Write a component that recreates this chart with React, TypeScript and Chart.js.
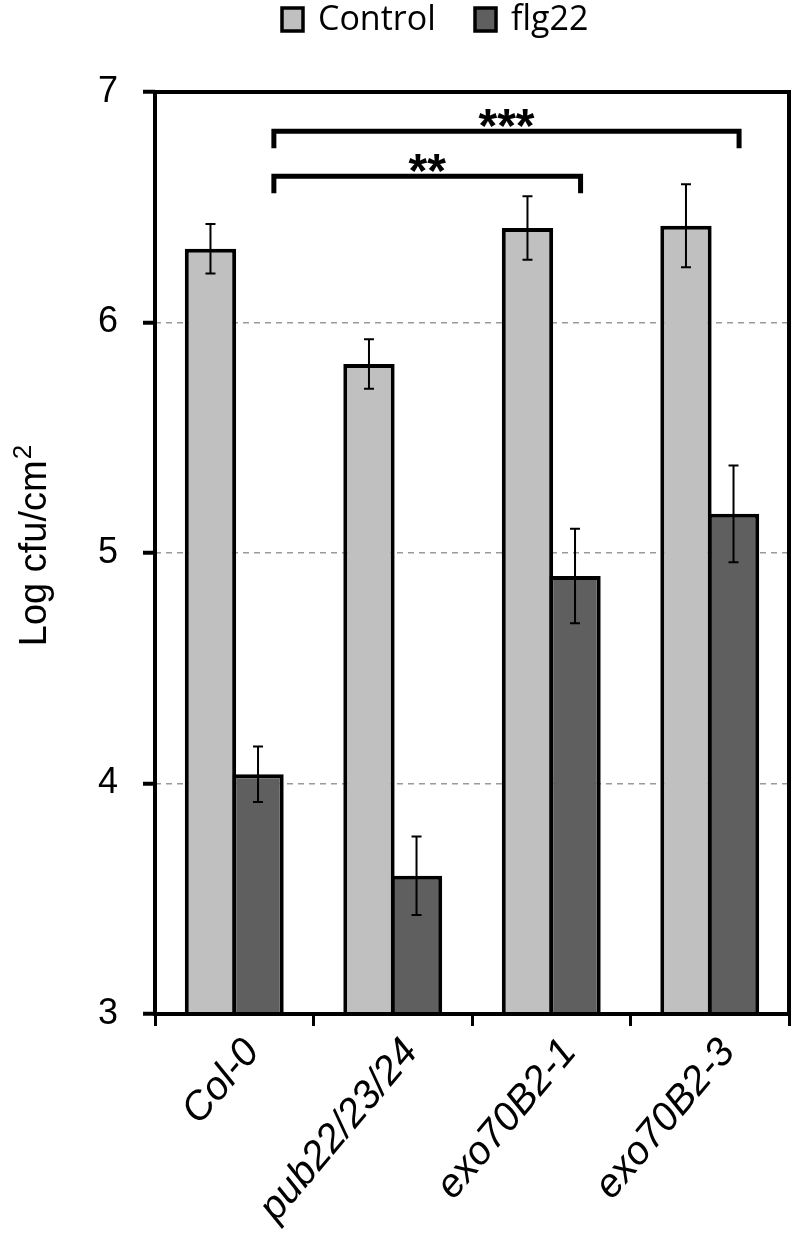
import React, { useEffect, useRef } from 'react';
import { Chart, registerables } from 'chart.js';

Chart.register(...registerables);

const categories = ['Col-0', 'pub22/23/24', 'exo70B2-1', 'exo70B2-3'];
const seriesNames = ['Control', 'flg22'];
const controlValues = [6.32, 5.82, 6.41, 6.42];
const controlErrors = [0.107, 0.107, 0.138, 0.18];
const flg22Values = [4.04, 3.6, 4.9, 5.17];
const flg22Errors = [0.12, 0.17, 0.205, 0.21];
const yTicks = [3, 4, 5, 6, 7];
const bracketFrom = [0, 0];
const bracketTo = [3, 2];
const bracketLevels = [6.83, 6.635];
const bracketLabels = ['***', '**'];
const yTitle = 'Log cfu/cm';
const yTitleSup = '2';

const seriesColors = ['#c0c0c0', '#5f5f5f'];
const FONT = '"Liberation Sans", Arial, sans-serif';

const overlay = {
  id: 'overlay',
  afterDatasetsDraw(chart: any) {
    const ctx = chart.ctx;
    const y = chart.scales.y;
    const errs = [controlErrors, flg22Errors];
    chart.data.datasets.forEach((ds: any, di: number) => {
      const meta = chart.getDatasetMeta(di);
      meta.data.forEach((bar: any, i: number) => {
        const v = ds.data[i];
        const e = errs[di][i];
        const cx = bar.x;
        const yt = y.getPixelForValue(v + e);
        const yb = y.getPixelForValue(v - e);
        ctx.save();
        ctx.strokeStyle = '#000';
        ctx.lineWidth = 2;
        ctx.beginPath();
        ctx.moveTo(cx, yt);
        ctx.lineTo(cx, yb);
        ctx.moveTo(cx - 5, yt);
        ctx.lineTo(cx + 5, yt);
        ctx.moveTo(cx - 5, yb);
        ctx.lineTo(cx + 5, yb);
        ctx.stroke();
        ctx.restore();
      });
    });
  },
  afterDraw(chart: any) {
    const ctx = chart.ctx;
    const area = chart.chartArea;
    const x = chart.scales.x;
    const y = chart.scales.y;
    ctx.save();
    // frame
    ctx.strokeStyle = '#000';
    ctx.lineWidth = 4;
    ctx.strokeRect(area.left, area.top, area.right - area.left, area.bottom - area.top);

    // brackets
    const catW = x.getPixelForValue(1) - x.getPixelForValue(0);
    ctx.lineWidth = 5;
    ctx.lineJoin = 'miter';
    ctx.lineCap = 'butt';
    bracketLevels.forEach((lvl, k) => {
      const xl = x.getPixelForValue(bracketFrom[k]) + 0.25 * catW;
      const xr = x.getPixelForValue(bracketTo[k]) + 0.185 * catW;
      const yb = y.getPixelForValue(lvl);
      ctx.beginPath();
      ctx.moveTo(xl, yb + 17);
      ctx.lineTo(xl, yb);
      ctx.lineTo(xr, yb);
      ctx.lineTo(xr, yb + 17);
      ctx.stroke();
      ctx.fillStyle = '#000';
      ctx.font = `bold 48px ${FONT}`;
      ctx.textAlign = 'center';
      ctx.textBaseline = 'alphabetic';
      ctx.fillText(bracketLabels[k], (xl + xr) / 2, yb + 11);
    });

    // legend
    ctx.font = '34px "Open Sans", sans-serif';
    ctx.textBaseline = 'middle';
    ctx.textAlign = 'left';
    const legendBoxX = [282, 475];
    seriesNames.forEach((name, i) => {
      const bx = legendBoxX[i];
      ctx.fillStyle = seriesColors[i];
      ctx.fillRect(bx, 8, 21, 23);
      ctx.lineWidth = 3.5;
      ctx.strokeStyle = '#000';
      ctx.strokeRect(bx, 8, 21, 23);
      ctx.fillStyle = '#000';
      ctx.fillText(name, bx + 36, 20);
    });

    // y title
    ctx.translate(46, 546);
    ctx.rotate(-Math.PI / 2);
    ctx.font = `38px ${FONT}`;
    const w1 = ctx.measureText(yTitle).width;
    ctx.font = `26px ${FONT}`;
    const w2 = ctx.measureText(yTitleSup).width;
    const start = -(w1 + w2) / 2;
    ctx.textBaseline = 'alphabetic';
    ctx.fillStyle = '#000';
    ctx.font = `38px ${FONT}`;
    ctx.fillText(yTitle, start, 0);
    ctx.font = `26px ${FONT}`;
    ctx.fillText(yTitleSup, start + w1 + 1, -15);
    ctx.restore();
  },
};

export default function App() {
  const ref = useRef<HTMLCanvasElement | null>(null);
  useEffect(() => {
    document.body.style.margin = '0';
    if (!ref.current) return;
    const chart = new Chart(ref.current, {
      type: 'bar',
      data: {
        labels: categories,
        datasets: [
          {
            label: seriesNames[0],
            data: controlValues,
            backgroundColor: seriesColors[0],
            borderColor: '#000',
            borderWidth: 4,
            borderSkipped: false,
            categoryPercentage: 0.6,
            barPercentage: 1.08,
          },
          {
            label: seriesNames[1],
            data: flg22Values,
            backgroundColor: seriesColors[1],
            borderColor: '#000',
            borderWidth: 4,
            borderSkipped: false,
            categoryPercentage: 0.6,
            barPercentage: 1.08,
          },
        ],
      },
      options: {
        responsive: false,
        animation: false,
        devicePixelRatio: 1,
        layout: { padding: { top: 92, right: 8, left: 0, bottom: 0 } },
        plugins: { legend: { display: false }, tooltip: { enabled: false } },
        scales: {
          x: {
            offset: true,
            grid: {
              offset: true,
              drawOnChartArea: false,
              color: '#000',
              lineWidth: 3,
              tickLength: 12,
            },
            border: { display: false },
            ticks: {
              color: '#000',
              font: { family: FONT, size: 40, style: 'italic' },
              minRotation: 50,
              maxRotation: 50,
              autoSkip: false,
              padding: 4,
              labelOffset: 18,
            },
            afterFit: (s: any) => {
              s.height = 237;
            },
          },
          y: {
            min: 3,
            max: 7,
            afterBuildTicks: (s: any) => {
              s.ticks = yTicks.map((v) => ({ value: v }));
            },
            ticks: {
              color: '#000',
              font: { family: FONT, size: 36 },
              padding: 25,
            },
            grid: {
              color: (c: any) =>
                c.tick && c.tick.value > 3 && c.tick.value < 7 ? '#9a9a9a' : 'rgba(0,0,0,0)',
              lineWidth: 1.5,
              tickColor: '#000',
              tickWidth: 4,
              tickLength: 12,
              tickBorderDash: [],
            },
            border: { display: false, dash: [6, 5] },
            afterFit: (s: any) => {
              s.width = 155;
            },
          },
        },
      },
      plugins: [overlay],
    });
    return () => chart.destroy();
  }, []);
  return (
    <div style={{ width: 797, height: 1251 }}>
      <canvas ref={ref} width={797} height={1251} style={{ display: 'block' }} />
    </div>
  );
}
